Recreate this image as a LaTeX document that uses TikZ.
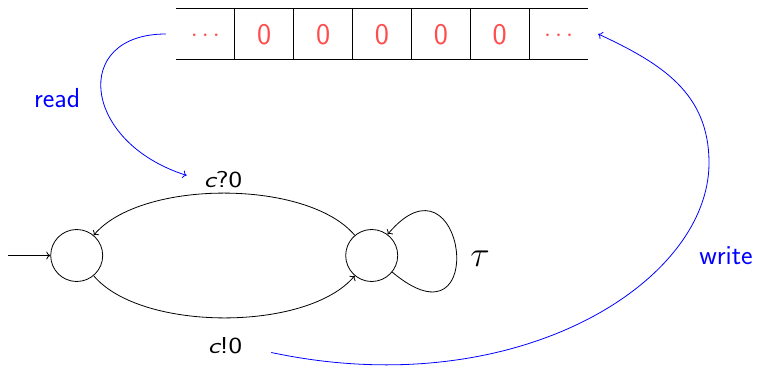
\documentclass[tikz,border=0pt]{standalone}
\usepackage{fontspec}
\usepackage{graphicx}
\usetikzlibrary{arrows.meta}
\newcommand\tapefont{\sffamily\fontsize{30}{36}\selectfont}
\newcommand\labfont{\sffamily\fontsize{23}{27}\selectfont}
\newcommand\wordfont{\sffamily\fontsize{27.5}{33}\selectfont}
\newcommand\widen[1]{\scalebox{1.25}[1]{#1}}
\colorlet{tapered}{red!70}
\begin{document}
\begin{tikzpicture}[x=1pt,y=1pt,
  >={To[length=4pt,width=8pt]},
  state/.style={circle,draw,line width=0.8pt,minimum size=52pt,inner sep=0pt},
  cell/.style={minimum width=58.86pt,minimum height=50pt,inner sep=0pt,text=tapered,font=\tapefont,text height=21pt,text depth=0pt},
  tapeline/.style={line width=0.8pt},
  lab/.style={inner sep=0pt,anchor=base,font=\labfont},
  word/.style={inner sep=0pt,anchor=base,font=\wordfont,text=blue},
  edge/.style={->,line width=0.8pt},
  blueedge/.style={->,blue,line width=0.8pt}]
\useasboundingbox (0,0) rectangle (758,-367);
% tape
\node[cell] (c0) at (205.43,-34) {\raisebox{3pt}{$\cdots$}};
\node[cell] (c1) at (264.29,-34) {0};
\node[cell] (c2) at (323.15,-34) {0};
\node[cell] (c3) at (382.01,-34) {0};
\node[cell] (c4) at (440.87,-34) {0};
\node[cell] (c5) at (499.73,-34) {0};
\node[cell] (c6) at (558.59,-34) {\raisebox{3pt}{$\cdots$}};
\draw[tapeline] (c0.north west) -- (c6.north east);
\draw[tapeline] (c0.south west) -- (c6.south east);
\foreach \i in {1,...,6} \draw[tapeline] (c\i.north west) -- (c\i.south west);
% automaton
\node[state] (L) at (76.7,-255.5) {};
\node[state] (R) at (371.7,-255.5) {};
\coordinate (init) at (8,-255.5);
\draw[edge] (init) -- (L);
\draw[edge] (R) to[out=130,in=50,looseness=0.72] (L);
\draw[edge] (L) to[out=-50,in=-130,looseness=0.72] (R);
\draw[edge] (R.-39) .. controls +(-40:130pt) and +(50:120pt) .. (R.53);
% labels
\node[lab] (q) at (223,-187.3) {\widen{{\itshape c}?0}};
\node[lab] (w) at (225,-353.3) {\widen{{\itshape c}!0}};
\node[lab,font=\fontsize{24}{29}\selectfont] (tau) at (480,-266) {\scalebox{1.45}{$\tau$}};
\node[word] (rd) at (57.2,-107.3) {read};
\node[word] (wr) at (726,-264.3) {write};
% read / write
\draw[blueedge] ([xshift=-10pt]c0.west) .. controls +(180:95pt) and +(162.4:110pt) .. ([shift={(-17pt,4pt)}]q.west);
\coordinate (wm) at (709,-163);
\draw[blueedge] ([shift={(29pt,-7pt)}]w.east) .. controls +(-12:250pt) and +(-90:120pt) .. (wm) .. controls +(90:70pt) and +(-25:70pt) .. ([xshift=10pt]c6.east);
\end{tikzpicture}
\end{document}
